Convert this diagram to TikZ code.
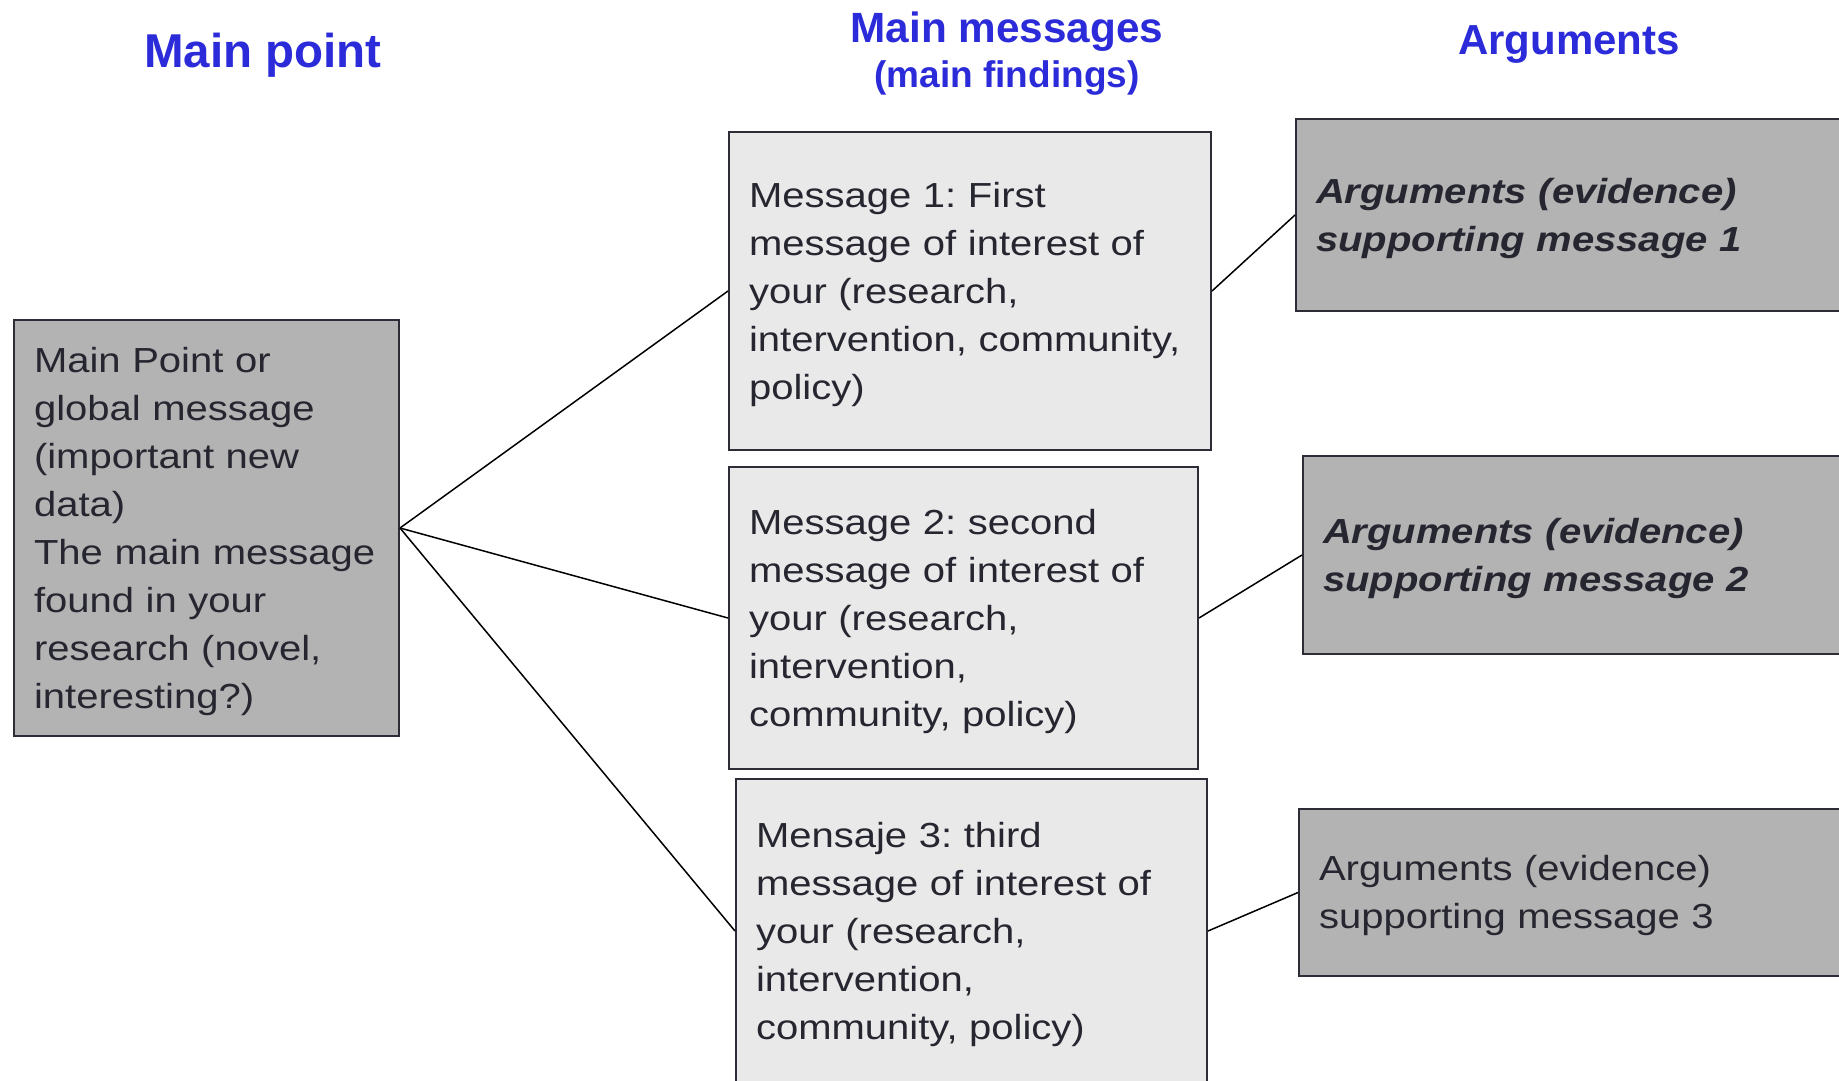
\documentclass[tikz,border=0pt]{standalone}
\usepackage{fontspec}
\setmainfont{Liberation Sans}[FakeStretch=1.15]
\newfontfamily\headfont{Liberation Sans}
\newcommand{\msgfont}{\fontsize{34.8pt}{48pt}\selectfont}
\frenchspacing
\definecolor{headblue}{RGB}{43,43,217}
\definecolor{ink}{RGB}{38,38,48}
\definecolor{boxline}{RGB}{45,45,55}
\definecolor{darkbox}{RGB}{179,179,179}
\definecolor{lightbox}{RGB}{233,233,233}
\begin{document}
\begin{tikzpicture}[x=1pt, y=-1pt]
		\tikzstyle{block} = [rectangle,draw=boxline,line width=2pt,inner sep=20pt,align=left,anchor=north west,text=ink,font=\msgfont,text height=32pt]
		\tikzstyle{head} = [anchor=base,text=headblue,font=\headfont\bfseries]
		\useasboundingbox (0,0) rectangle (1839,1080);
		\clip (0,0) rectangle (1839,1080);
		% column titles
		\node[head,font=\headfont\bfseries\fontsize{47.5pt}{50pt}\selectfont](headpoint)at (263,67){Main point};
		\node[head,font=\headfont\bfseries\fontsize{42.3pt}{45pt}\selectfont](headmsg)at (1007,42){Main messages};
		\node[head,font=\headfont\bfseries\fontsize{37pt}{40pt}\selectfont](headfind)at (1007,87){(main findings)};
		\node[head,font=\headfont\bfseries\fontsize{42pt}{45pt}\selectfont](headarg)at (1569,54){Arguments};
		% boxes
		\node[block,fill=darkbox,minimum width=385pt,minimum height=416pt,text width=345pt]at (13,319)(mainpt){Main Point or\\global message\\(important new\\data)\\The main message\\found in your\\research (novel,\\interesting?)};
		\node[block,fill=lightbox,minimum width=482pt,minimum height=318pt,text width=442pt]at (728,131)(msg1){Message 1: First\\message of interest of\\your (research,\\intervention, community,\\policy)};
		\node[block,fill=lightbox,minimum width=469pt,minimum height=302pt,text width=429pt]at (728,466)(msg2){Message 2: second\\message of interest of\\your (research,\\intervention,\\community, policy)};
		\node[block,fill=lightbox,minimum width=471pt,minimum height=304pt,text width=431pt]at (735,778)(msg3){Mensaje 3: third\\message of interest of\\your (research,\\intervention,\\community, policy)};
		\node[block,fill=darkbox,minimum width=600pt,minimum height=192pt,text width=560pt,font=\msgfont\bfseries\itshape]at (1295,118)(arg1){Arguments (evidence)\\supporting message 1};
		\node[block,fill=darkbox,minimum width=600pt,minimum height=198pt,text width=560pt,font=\msgfont\bfseries\itshape]at (1302,455)(arg2){Arguments (evidence)\\supporting message 2};
		\node[block,fill=darkbox,minimum width=600pt,minimum height=167pt,text width=560pt]at (1298,808)(arg3){Arguments (evidence)\\supporting message 3};
		% connectors
		\path[line width=1.5pt] (mainpt.east) edge (msg1.west)
		(mainpt.east) edge (msg2.west)
		(mainpt.east) edge (msg3.west)
		(msg1.east) edge (arg1.west)
		(msg2.east) edge (arg2.west)
		(msg3.east) edge (arg3.west);
\end{tikzpicture}
\end{document}
